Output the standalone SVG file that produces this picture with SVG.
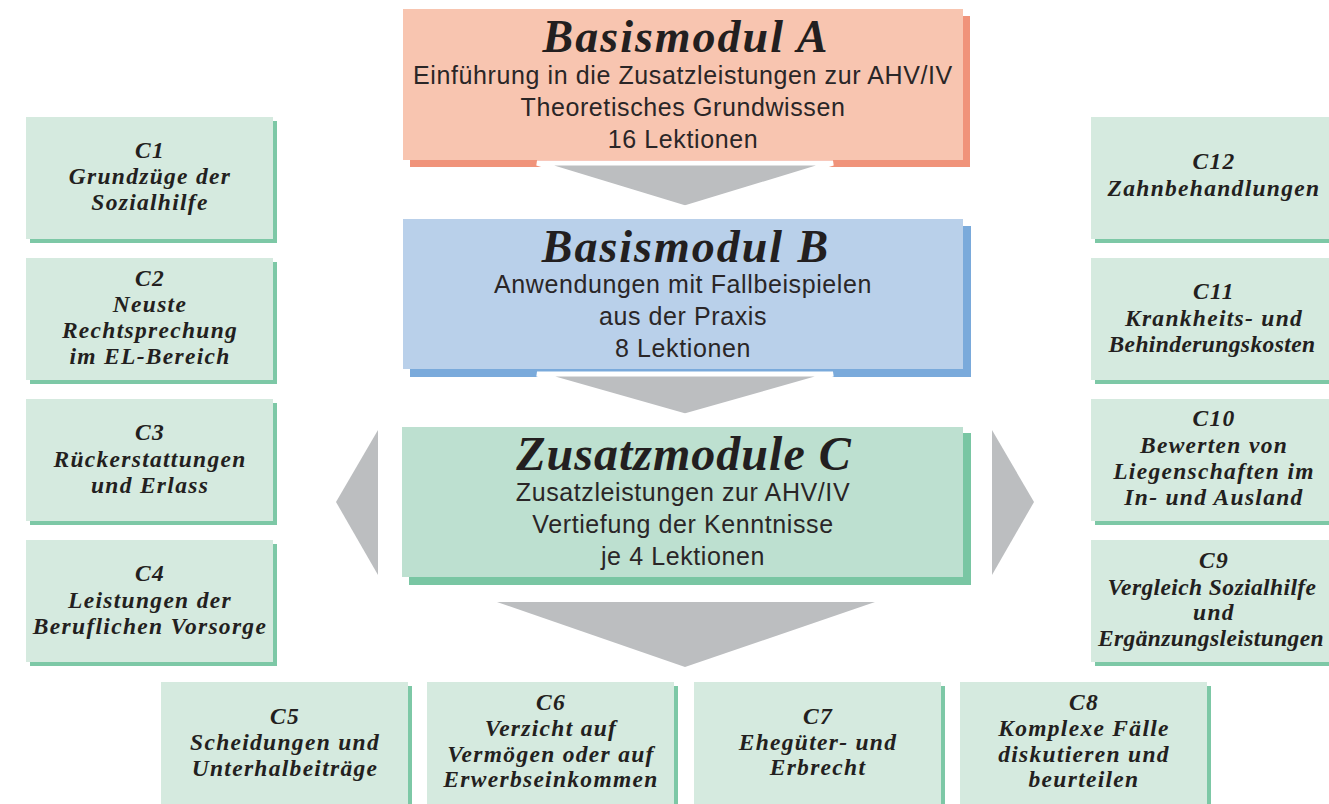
<svg xmlns="http://www.w3.org/2000/svg" width="1329" height="804" viewBox="0 0 1329 804">
<style>
.title{font-family:"Liberation Serif",serif;font-style:italic;font-weight:bold;fill:#231f20;text-anchor:middle}
.sub{font-family:"Liberation Sans",Arial,sans-serif;font-size:25px;letter-spacing:0.6px;fill:#2a2627;text-anchor:middle}
.sm{font-family:"Liberation Serif",serif;font-style:italic;font-weight:bold;font-size:23.5px;fill:#231f20;text-anchor:middle;letter-spacing:1.3px}
.tight{letter-spacing:0.4px}
.cbox{fill:#d5eadf}
.cshd{fill:#7dc8a6}
.arrow{fill:#bcbec0;stroke:#ffffff;stroke-width:5}
.side{fill:#bcbec0}
</style>
<rect width="1329" height="804" fill="#ffffff"/>

<g id="basismodul-a">
<rect x="410" y="16" width="560" height="151" fill="#f0937a"/>
<rect x="403" y="9" width="560" height="151" fill="#f8c5b0"/>
<text class="title" x="686" y="52" font-size="46" letter-spacing="2">Basismodul A</text>
<text class="sub" x="683" y="84">Einführung in die Zusatzleistungen zur AHV/IV</text>
<text class="sub" x="683" y="116">Theoretisches Grundwissen</text>
<text class="sub" x="683" y="148">16 Lektionen</text>
</g>

<g id="basismodul-b">
<rect x="410" y="226" width="561" height="151" fill="#7aaadb"/>
<rect x="403" y="219" width="560" height="150" fill="#b9d0ea"/>
<text class="title" x="686" y="262" font-size="46" letter-spacing="2">Basismodul B</text>
<text class="sub" x="683" y="293">Anwendungen mit Fallbeispielen</text>
<text class="sub" x="683" y="325">aus der Praxis</text>
<text class="sub" x="683" y="357">8 Lektionen</text>
</g>

<g id="zusatzmodule-c">
<rect x="409" y="433" width="562" height="152" fill="#79c6a3"/>
<rect x="402" y="427" width="561" height="150" fill="#bde0d0"/>
<text class="title" x="684" y="470" font-size="48" letter-spacing="1">Zusatzmodule C</text>
<text class="sub" x="683" y="501">Zusatzleistungen zur AHV/IV</text>
<text class="sub" x="683" y="533">Vertiefung der Kenntnisse</text>
<text class="sub" x="683" y="565">je 4 Lektionen</text>
</g>

<g id="connectors">
<polygon class="arrow" points="537,163 833,163 685,208"/>
<polygon class="arrow" points="537,374 833,374 685,416"/>
<polygon class="side" points="378,430 378,575 336,502"/>
<polygon class="side" points="992,430 992,575 1034,502"/>
<polygon class="side" points="497,602 875,602 685,667"/>
</g>

<g id="c1">
<rect class="cshd" x="30" y="121" width="247" height="122"/>
<rect class="cbox" x="26" y="117" width="247" height="122"/>
<text class="sm" x="150" y="158">C1</text>
<text class="sm" x="150" y="184">Grundzüge der</text>
<text class="sm" x="150" y="210">Sozialhilfe</text>
</g>
<g id="c2">
<rect class="cshd" x="30" y="262" width="247" height="122"/>
<rect class="cbox" x="26" y="258" width="247" height="122"/>
<text class="sm" x="150" y="286">C2</text>
<text class="sm" x="150" y="312">Neuste</text>
<text class="sm" x="150" y="338">Rechtsprechung</text>
<text class="sm" x="150" y="364">im EL-Bereich</text>
</g>
<g id="c3">
<rect class="cshd" x="30" y="403" width="247" height="122"/>
<rect class="cbox" x="26" y="399" width="247" height="122"/>
<text class="sm" x="150" y="440">C3</text>
<text class="sm" x="150" y="467">Rückerstattungen</text>
<text class="sm" x="150" y="493">und Erlass</text>
</g>
<g id="c4">
<rect class="cshd" x="30" y="544" width="247" height="122"/>
<rect class="cbox" x="26" y="540" width="247" height="122"/>
<text class="sm" x="150" y="581">C4</text>
<text class="sm" x="150" y="608">Leistungen der</text>
<text class="sm" x="150" y="634">Beruflichen Vorsorge</text>
</g>

<g id="c12">
<rect class="cshd" x="1095" y="121" width="250" height="122"/>
<rect class="cbox" x="1091" y="117" width="250" height="122"/>
<text class="sm" x="1214" y="169">C12</text>
<text class="sm" x="1214" y="196">Zahnbehandlungen</text>
</g>
<g id="c11">
<rect class="cshd" x="1095" y="262" width="250" height="122"/>
<rect class="cbox" x="1091" y="258" width="250" height="122"/>
<text class="sm" x="1214" y="299">C11</text>
<text class="sm" x="1214" y="326">Krankheits- und</text>
<text class="sm tight" x="1212" y="352">Behinderungskosten</text>
</g>
<g id="c10">
<rect class="cshd" x="1095" y="403" width="250" height="122"/>
<rect class="cbox" x="1091" y="399" width="250" height="122"/>
<text class="sm" x="1214" y="426">C10</text>
<text class="sm" x="1214" y="453">Bewerten von</text>
<text class="sm" x="1214" y="479">Liegenschaften im</text>
<text class="sm" x="1214" y="505">In- und Ausland</text>
</g>
<g id="c9">
<rect class="cshd" x="1095" y="544" width="250" height="122"/>
<rect class="cbox" x="1091" y="540" width="250" height="122"/>
<text class="sm" x="1214" y="568">C9</text>
<text class="sm tight" x="1212" y="595">Vergleich Sozialhilfe</text>
<text class="sm" x="1214" y="620">und</text>
<text class="sm tight" x="1211" y="646">Ergänzungsleistungen</text>
</g>

<g id="c5">
<rect class="cshd" x="165" y="686" width="247" height="130"/>
<rect class="cbox" x="161" y="682" width="247" height="130"/>
<text class="sm" x="285" y="724">C5</text>
<text class="sm" x="285" y="750">Scheidungen und</text>
<text class="sm" x="285" y="776">Unterhalbeiträge</text>
</g>
<g id="c6">
<rect class="cshd" x="431" y="686" width="247" height="130"/>
<rect class="cbox" x="427" y="682" width="247" height="130"/>
<text class="sm" x="551" y="710">C6</text>
<text class="sm" x="551" y="736">Verzicht auf</text>
<text class="sm" x="551" y="762">Vermögen oder auf</text>
<text class="sm" x="551" y="787">Erwerbseinkommen</text>
</g>
<g id="c7">
<rect class="cshd" x="698" y="686" width="247" height="130"/>
<rect class="cbox" x="694" y="682" width="247" height="130"/>
<text class="sm" x="818" y="724">C7</text>
<text class="sm" x="818" y="750">Ehegüter- und</text>
<text class="sm" x="818" y="775">Erbrecht</text>
</g>
<g id="c8">
<rect class="cshd" x="964" y="686" width="247" height="130"/>
<rect class="cbox" x="960" y="682" width="247" height="130"/>
<text class="sm" x="1084" y="710">C8</text>
<text class="sm" x="1084" y="736">Komplexe Fälle</text>
<text class="sm" x="1084" y="762">diskutieren und</text>
<text class="sm" x="1084" y="787">beurteilen</text>
</g>
</svg>
